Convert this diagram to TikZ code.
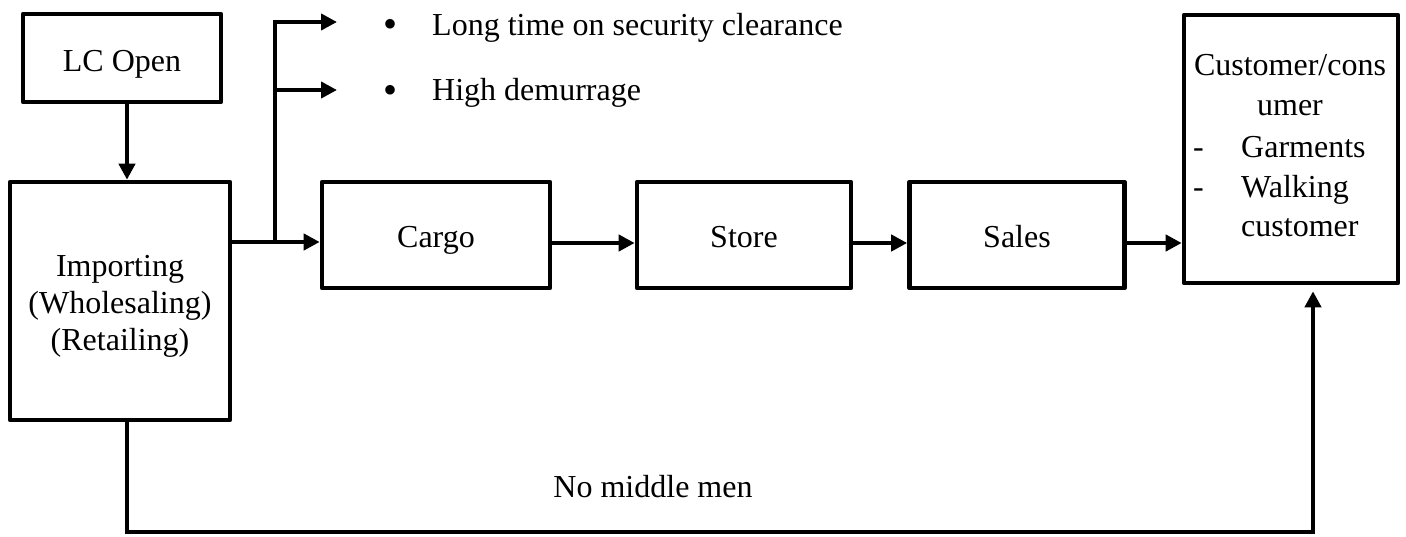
\documentclass[tikz,border=0pt]{standalone}
\usepackage{fontspec}
\setmainfont{Liberation Serif}
\usetikzlibrary{arrows.meta}
\newcommand{\bigfs}{\fontsize{32}{37}\selectfont}
\newcommand{\bulfs}{\fontsize{40}{40}\selectfont}
\begin{document}
\begin{tikzpicture}[x=1pt,y=-1pt,
  box/.style={draw, line width=4.6pt, rectangle, inner sep=0pt, font=\bigfs, line join=round},
  one/.style={text height=31pt, text depth=7pt},
  arr/.style={line width=4pt, -{Triangle[length=16pt,width=16pt]}},
  txt/.style={font=\bigfs, inner sep=0pt},
  bul/.style={font=\bulfs, inner sep=0pt}]
\useasboundingbox (0,0) rectangle (1406,536);

% boxes
\node[box,text height=34pt,text depth=7pt,minimum width=198pt,minimum height=88pt] (lc) at (122,58) {LC Open};
\node[box,minimum width=220pt,minimum height=238pt] (imp) at (120,301) {};
\node[txt,align=center] (impt) at (120,306) {Importing\\(Wholesaling)\\(Retailing)};
\node[box,one,minimum width=228pt,minimum height=106pt] (cargo) at (436,235) {Cargo};
\node[box,one,minimum width=214pt,minimum height=106pt] (store) at (744,235) {Store};
\node[box,one,minimum width=215pt,minimum height=106pt] (sales) at (1017,235) {Sales};
\node[box,minimum width=214pt,minimum height=268pt] (cust) at (1291,149) {};

% customer text
\node[txt,anchor=base] (c1) at (1290,75) {Customer/cons};
\node[txt,anchor=base] (c2) at (1290,115) {umer};
\node[txt,anchor=base west] (d1) at (1193,157) {-};
\node[txt,anchor=base west] (c3) at (1241,157) {Garments};
\node[txt,anchor=base west] (d2) at (1193,197) {-};
\node[txt,anchor=base west] (c4) at (1241,197) {Walking};
\node[txt,anchor=base west] (c5) at (1241,236) {customer};

% bullet texts
\node[bul,anchor=base] (b1) at (390,37) {\textbullet};
\node[txt,anchor=base west] (l1) at (432,35) {Long time on security clearance};
\node[bul,anchor=base] (b2) at (390,103) {\textbullet};
\node[txt,anchor=base west] (l2) at (432,100) {High demurrage};

% bottom label
\node[txt,anchor=base] (nm) at (653,497) {No middle men};

% coordinates
\coordinate (vx) at (127,532);
\coordinate (ve) at (1313,532);
\coordinate (j) at (275,242);
\coordinate (t1) at (337,22);
\coordinate (t2) at (337,90);
\coordinate (ya) at (0,243);

% connectors
\draw[arr] (lc.south -| vx) -- (imp.north -| vx);
\draw[arr] (imp.east |- j) -- (cargo.west |- j);
\draw[arr] (j) |- (t1);
\draw[arr] (j |- t2) -- (t2);
\draw[arr] (cargo.east |- ya) -- (store.west |- ya);
\draw[arr] (store.east |- ya) -- (sales.west |- ya);
\draw[arr] (sales.east |- ya) -- (cust.west |- ya);
\draw[arr, shorten >=6pt] (imp.south -| vx) -- (vx) -- (ve) -- (cust.south -| ve);
\end{tikzpicture}
\end{document}
